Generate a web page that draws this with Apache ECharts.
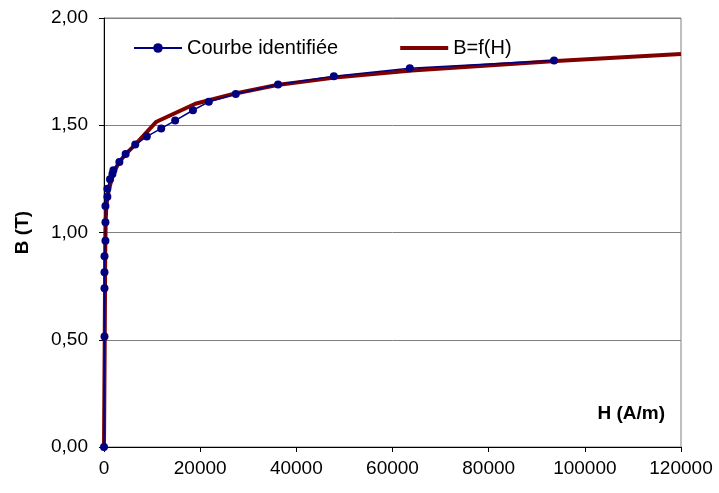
<!DOCTYPE html>
<html>
<head>
<meta charset="utf-8">
<script src="https://cdn.jsdelivr.net/npm/echarts@6/dist/echarts.min.js"></script>
<style>
html,body{margin:0;padding:0;background:#fff;}
#chart{width:719px;height:493px;}
</style>
</head>
<body>
<div id="chart"></div>
<script>
// Courbe identifiée (measured points): H (A/m), B (T)
var identH = [0, 100, 100, 100, 100, 300, 300, 300, 700, 700, 1250, 1750, 1950, 3200, 4500, 6500, 8900, 11900, 14800, 18500, 21800, 27400, 36200, 47800, 63600, 93600];
var identB = [0, 0.515, 0.74, 0.815, 0.889, 0.961, 1.048, 1.123, 1.167, 1.204, 1.248, 1.273, 1.29, 1.329, 1.366, 1.41, 1.447, 1.485, 1.522, 1.57, 1.609, 1.646, 1.69, 1.729, 1.766, 1.802];
// B = f(H) model curve
var modelH = [0, 150, 250, 350, 500, 1000, 2000, 3200, 4500, 6500, 10800, 19000, 27300, 36000, 48000, 64000, 94000, 120000];
var modelB = [0, 0.5, 0.9, 1.05, 1.13, 1.2, 1.28, 1.33, 1.365, 1.41, 1.515, 1.60, 1.648, 1.688, 1.722, 1.755, 1.80, 1.832];
var yTicks = [0, 0.5, 1.0, 1.5, 2.0];
var xTicks = [0, 20000, 40000, 60000, 80000, 100000, 120000];

function pairs(xs, ys) { return xs.map(function (x, i) { return [x, ys[i]]; }); }

var FONT = '"Liberation Sans", Arial, sans-serif';
var chart = echarts.init(document.getElementById('chart'), null, {renderer: 'canvas'});
chart.setOption({
  animation: false,
  backgroundColor: '#ffffff',
  textStyle: {fontFamily: FONT, color: '#000'},
  grid: {left: 104, right: 38, top: 18, bottom: 46, show: true, borderColor: '#808080', borderWidth: 1, backgroundColor: 'transparent'},
  legend: {
    left: 128, top: 33, itemWidth: 48, itemHeight: 12, itemGap: 62,
    textStyle: {fontFamily: FONT, fontSize: 20, color: '#000'},
    data: [
      {name: 'Courbe identifiée'},
      {name: 'B=f(H)', icon: 'path://M0,0 L48,0 L48,4 L0,4 Z', itemStyle: {color: '#800000'}}
    ]
  },
  xAxis: {
    type: 'value', min: xTicks[0], max: xTicks[xTicks.length - 1], interval: xTicks[1] - xTicks[0],
    name: 'H (A/m)', nameLocation: 'end', nameGap: -16,
    nameTextStyle: {fontFamily: FONT, fontSize: 19, fontWeight: 'bold', color: '#000', align: 'right', verticalAlign: 'bottom', padding: [0, 0, 24, 0]},
    axisLine: {show: true, lineStyle: {color: '#000', width: 1}},
    axisTick: {show: true, length: 5, lineStyle: {color: '#000'}},
    axisLabel: {fontFamily: FONT, fontSize: 19, color: '#000', margin: 12, formatter: function (v) { return String(v); }},
    splitLine: {show: false}
  },
  yAxis: {
    type: 'value', min: yTicks[0], max: yTicks[yTicks.length - 1], interval: yTicks[1] - yTicks[0],
    name: 'B (T)', nameLocation: 'middle', nameGap: 72, nameRotate: 90,
    nameTextStyle: {fontFamily: FONT, fontSize: 19, fontWeight: 'bold', color: '#000'},
    axisLine: {show: true, lineStyle: {color: '#000', width: 1}},
    axisTick: {show: true, length: 5, lineStyle: {color: '#000'}},
    axisLabel: {fontFamily: FONT, fontSize: 19, color: '#000', margin: 16, formatter: function (v) { return v.toFixed(2).replace('.', ','); }},
    splitLine: {show: true, lineStyle: {color: '#808080', width: 1}}
  },
  series: [
    {
      name: 'B=f(H)', type: 'line', data: pairs(modelH, modelB), symbol: 'none',
      lineStyle: {color: '#800000', width: 4}, itemStyle: {color: '#800000'}, z: 2
    },
    {
      name: 'Courbe identifiée', type: 'line', data: pairs(identH, identB), symbol: 'circle', symbolSize: 8,
      lineStyle: {color: '#000080', width: 1.5}, itemStyle: {color: '#000080'}, z: 3
    }
  ]
});
</script>
</body>
</html>
